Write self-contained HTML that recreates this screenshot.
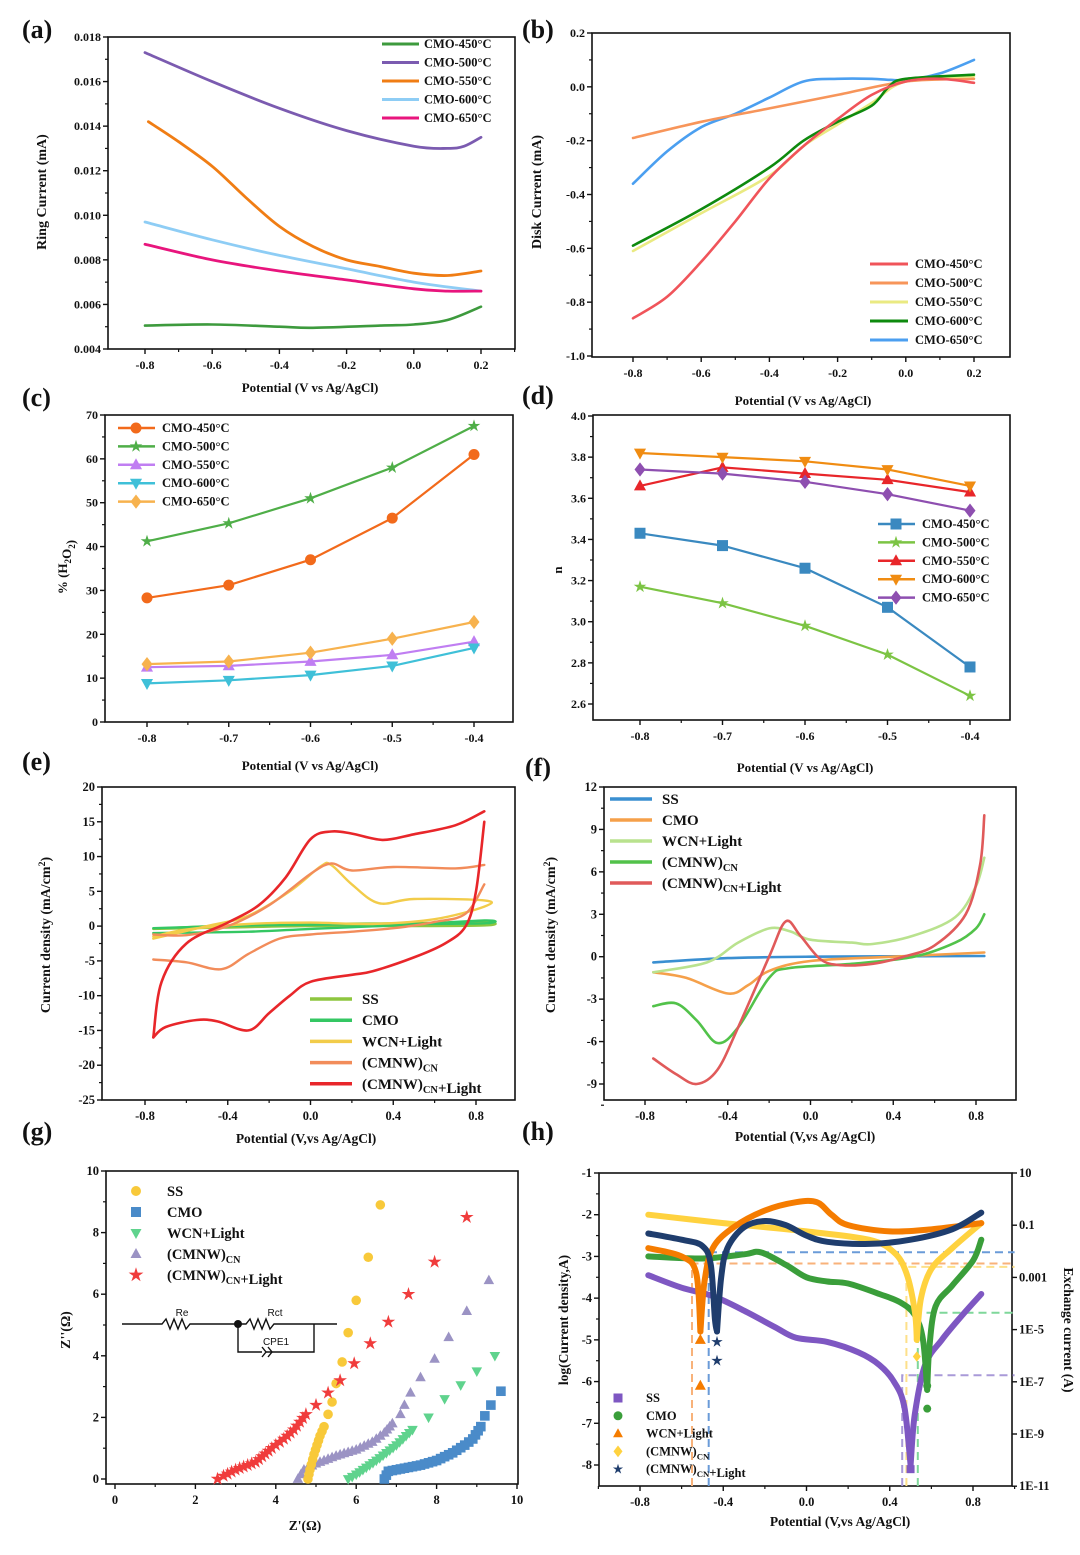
<!DOCTYPE html>
<html><head><meta charset="utf-8">
<style>
html,body{margin:0;padding:0;background:#fff;}
svg{display:block;}
text{font-family:"Liberation Serif",serif;font-weight:bold;fill:#111;}
</style></head>
<body>
<svg id="s" width="1080" height="1555" viewBox="0 0 1080 1555" xmlns="http://www.w3.org/2000/svg"></svg>
<script>
const S=document.getElementById('s');
let out='';
function lin(a,pa,b,pb){return v=>pa+(v-a)*(pb-pa)/(b-a);}
function path(pts,X,Y,col,w,extra){
  const p=pts.map(q=>[X(q[0]),Y(q[1])]);
  let d='M'+p[0][0].toFixed(1)+','+p[0][1].toFixed(1);
  for(let i=0;i<p.length-1;i++){
    const p0=p[i-1]||p[i],p1=p[i],p2=p[i+1],p3=p[i+2]||p2;
    const c1=[p1[0]+(p2[0]-p0[0])/6,p1[1]+(p2[1]-p0[1])/6];
    const c2=[p2[0]-(p3[0]-p1[0])/6,p2[1]-(p3[1]-p1[1])/6];
    d+=' C'+c1[0].toFixed(1)+','+c1[1].toFixed(1)+' '+c2[0].toFixed(1)+','+c2[1].toFixed(1)+' '+p2[0].toFixed(1)+','+p2[1].toFixed(1);
  }
  out+=`<path d="${d}" fill="none" stroke="${col}" stroke-width="${w}" stroke-linejoin="round" stroke-linecap="round" ${extra||''}/>`;
}
function pl(pts,col,w,extra){out+=`<polyline points="${pts.map(p=>p[0].toFixed(1)+','+p[1].toFixed(1)).join(' ')}" fill="none" stroke="${col}" stroke-width="${w}" ${extra||''}/>`;}
function mk(t,x,y,r,c){
  if(t=='o')out+=`<circle cx="${x}" cy="${y}" r="${r}" fill="${c}"/>`;
  else if(t=='s')out+=`<rect x="${x-r}" y="${y-r}" width="${2*r}" height="${2*r}" fill="${c}"/>`;
  else if(t=='^')out+=`<polygon points="${x},${y-r*1.2} ${x-r*1.1},${y+r*0.8} ${x+r*1.1},${y+r*0.8}" fill="${c}"/>`;
  else if(t=='v')out+=`<polygon points="${x},${y+r*1.2} ${x-r*1.1},${y-r*0.8} ${x+r*1.1},${y-r*0.8}" fill="${c}"/>`;
  else if(t=='d')out+=`<polygon points="${x},${y-r*1.3} ${x-r},${y} ${x},${y+r*1.3} ${x+r},${y}" fill="${c}"/>`;
  else if(t=='*'){let p=[];for(let i=0;i<10;i++){const a=-Math.PI/2+i*Math.PI/5,rr=i%2?r*0.45:r*1.2;p.push((x+rr*Math.cos(a)).toFixed(1)+','+(y+rr*Math.sin(a)).toFixed(1));}out+=`<polygon points="${p.join(' ')}" fill="${c}"/>`;}
}
function txt(x,y,s,size,anchor,extra){out+=`<text x="${x}" y="${y}" font-size="${size}" text-anchor="${anchor||'start'}" ${extra||''}>${s}</text>`;}
function box(x0,y0,x1,y1){out+=`<rect x="${x0}" y="${y0}" width="${x1-x0}" height="${y1-y0}" fill="none" stroke="#111" stroke-width="1.6"/>`;}
function axes(o){
  box(o.x0,o.y0,o.x1,o.y1);
  o.xt.forEach((v,i)=>{const x=o.X(v);out+=`<line x1="${x}" y1="${o.y1}" x2="${x}" y2="${o.y1+5}" stroke="#111" stroke-width="1.4"/>`;txt(x,o.y1+20,o.xl[i],o.fs||12,'middle');});
  if(o.xm)o.xm.forEach(v=>{const x=o.X(v);out+=`<line x1="${x}" y1="${o.y1}" x2="${x}" y2="${o.y1+3}" stroke="#111" stroke-width="1.2"/>`;});
  o.yt.forEach((v,i)=>{const y=o.Y(v);out+=`<line x1="${o.x0-5}" y1="${y}" x2="${o.x0}" y2="${y}" stroke="#111" stroke-width="1.4"/>`;txt(o.x0-7,y+4,o.yl[i],o.fs||12,'end');});
  if(o.ym)o.ym.forEach(v=>{const y=o.Y(v);out+=`<line x1="${o.x0-3}" y1="${y}" x2="${o.x0}" y2="${y}" stroke="#111" stroke-width="1.2"/>`;});
}
function ytitle(x,y,s,size){out+=`<text x="${x}" y="${y}" font-size="${size}" text-anchor="middle" transform="rotate(-90 ${x} ${y})">${s}</text>`;}
const SUB=s=>`<tspan font-size="70%" dy="4">${s}</tspan><tspan dy="-4"></tspan>`;
// panel labels
[['(a)',22,38],['(b)',522,38],['(c)',22,406],['(d)',522,404],['(e)',22,770],['(f)',525,776],['(g)',22,1140],['(h)',522,1140]].forEach(a=>txt(a[1],a[2],a[0],26));

// ===== (a)
{const X=lin(-0.8,145,0.2,481),Y=lin(0.018,37,0.004,349);
axes({x0:108,y0:37,x1:515,y1:349,X,Y,xt:[-0.8,-0.6,-0.4,-0.2,0,0.2],xl:['-0.8','-0.6','-0.4','-0.2','0.0','0.2'],xm:[-0.7,-0.5,-0.3,-0.1,0.1,0.3],yt:[0.004,0.006,0.008,0.010,0.012,0.014,0.016,0.018],yl:['0.004','0.006','0.008','0.010','0.012','0.014','0.016','0.018'],ym:[0.005,0.007,0.009,0.011,0.013,0.015,0.017]});
path([[-0.8,.00505],[-0.6,.0051],[-0.4,.005],[-0.3,.00495],[-0.1,.00505],[0,.0051],[0.1,.0053],[0.2,.0059]],X,Y,'#3d9a3d',2.6);
path([[-0.8,.0173],[-0.6,.016],[-0.4,.0148],[-0.2,.0138],[0,.0131],[0.1,.0130],[0.15,.0131],[0.2,.0135]],X,Y,'#7b5bb0',2.8);
path([[-0.79,.0142],[-0.7,.0133],[-0.6,.0122],[-0.5,.0108],[-0.4,.0095],[-0.3,.0086],[-0.2,.008],[-0.1,.0077],[0,.0074],[0.1,.0073],[0.2,.0075]],X,Y,'#f07d14',2.8);
path([[-0.8,.0097],[-0.6,.0089],[-0.4,.0082],[-0.2,.0076],[0,.007],[0.2,.0066]],X,Y,'#8ecdf5',2.8);
path([[-0.8,.0087],[-0.6,.0080],[-0.4,.0075],[-0.2,.0071],[0,.0067],[0.1,.0066],[0.2,.0066]],X,Y,'#e8157d',2.8);
[['#3d9a3d','CMO-450°C'],['#7b5bb0','CMO-500°C'],['#f07d14','CMO-550°C'],['#8ecdf5','CMO-600°C'],['#e8157d','CMO-650°C']].forEach((l,i)=>{const y=44+i*18.5;pl([[382,y],[419,y]],l[0],3);txt(424,y+4,l[1],12.5);});
txt(310,392,'Potential (V vs Ag/AgCl)',13,'middle');ytitle(46,192,'Ring Current (mA)',14);}

// ===== (b)
{const X=lin(-0.8,633,0.2,974),Y=lin(0.2,33,-1.0,356);
axes({x0:592,y0:33,x1:1010,y1:357,X,Y,xt:[-0.8,-0.6,-0.4,-0.2,0,0.2],xl:['-0.8','-0.6','-0.4','-0.2','0.0','0.2'],xm:[-0.7,-0.5,-0.3,-0.1,0.1],yt:[-1,-0.8,-0.6,-0.4,-0.2,0,0.2],yl:['-1.0','-0.8','-0.6','-0.4','-0.2','0.0','0.2'],ym:[-0.9,-0.7,-0.5,-0.3,-0.1,0.1]});
path([[-0.8,-0.36],[-0.7,-0.24],[-0.6,-0.15],[-0.5,-0.1],[-0.4,-0.04],[-0.3,0.02],[-0.2,0.03],[-0.1,0.03],[0,0.025],[0.1,0.05],[0.2,0.1]],X,Y,'#4b9ff0',2.6);
path([[-0.8,-0.19],[-0.6,-0.13],[-0.4,-0.08],[-0.2,-0.03],[0,0.02],[0.2,0.03]],X,Y,'#f7955a',2.6);
path([[-0.8,-0.61],[-0.6,-0.47],[-0.4,-0.33],[-0.3,-0.22],[-0.2,-0.14],[-0.1,-0.06],[0,0.02],[0.2,0.04]],X,Y,'#eaea82',2.6);
path([[-0.8,-0.59],[-0.6,-0.455],[-0.4,-0.3],[-0.3,-0.2],[-0.2,-0.13],[-0.1,-0.07],[-0.05,0],[0,0.03],[0.2,0.045]],X,Y,'#0e8a0e',2.6);
path([[-0.8,-0.86],[-0.7,-0.78],[-0.6,-0.65],[-0.5,-0.5],[-0.4,-0.34],[-0.3,-0.22],[-0.2,-0.12],[-0.1,-0.03],[0,0.02],[0.1,0.03],[0.2,0.015]],X,Y,'#f0545a',2.6);
[['#f0545a','CMO-450°C'],['#f7955a','CMO-500°C'],['#eaea82','CMO-550°C'],['#0e8a0e','CMO-600°C'],['#4b9ff0','CMO-650°C']].forEach((l,i)=>{const y=264+i*19;pl([[870,y],[908,y]],l[0],3);txt(915,y+4,l[1],12.5);});
txt(803,405,'Potential (V vs Ag/AgCl)',13,'middle');ytitle(541,192,'Disk Current (mA)',14);}

// ===== (c)
{const X=lin(-0.8,147,-0.4,474),Y=lin(70,415,0,722);
axes({x0:105,y0:415,x1:513,y1:722,X,Y,xt:[-0.8,-0.7,-0.6,-0.5,-0.4],xl:['-0.8','-0.7','-0.6','-0.5','-0.4'],xm:[-0.75,-0.65,-0.55,-0.45],yt:[0,10,20,30,40,50,60,70],yl:['0','10','20','30','40','50','60','70'],ym:[5,15,25,35,45,55,65]});
const xs=[-0.8,-0.7,-0.6,-0.5,-0.4];
const ser=[['#f26a1b','o',[28.3,31.2,37,46.5,61],'CMO-450°C'],['#4fae48','*',[41.2,45.3,51,58,67.5],'CMO-500°C'],['#c07ef2','^',[12.5,12.8,13.8,15.3,18.3],'CMO-550°C'],['#3fc0d8','v',[8.8,9.5,10.7,12.8,16.9],'CMO-600°C'],['#f7b24e','d',[13.2,13.8,15.8,19,22.8],'CMO-650°C']];
ser.forEach(s=>{pl(xs.map((x,i)=>[X(x),Y(s[2][i])]),s[0],2.2);xs.forEach((x,i)=>mk(s[1],X(x),Y(s[2][i]),5.5,s[0]));});
ser.forEach((s,i)=>{const y=428+i*18.4;pl([[118,y],[155,y]],s[0],2.5);mk(s[1],136,y,5.5,s[0]);txt(162,y+4,s[3],12.5);});
txt(310,770,'Potential (V vs Ag/AgCl)',13,'middle');ytitle(67,567,'% (H'+SUB('2')+'O'+SUB('2')+')',13);}

// ===== (d)
{const X=lin(-0.8,640,-0.4,970),Y=lin(4.0,416,2.6,704);
axes({x0:593,y0:415,x1:1010,y1:720,X,Y,xt:[-0.8,-0.7,-0.6,-0.5,-0.4],xl:['-0.8','-0.7','-0.6','-0.5','-0.4'],xm:[-0.75,-0.65,-0.55,-0.45],yt:[2.6,2.8,3.0,3.2,3.4,3.6,3.8,4.0],yl:['2.6','2.8','3.0','3.2','3.4','3.6','3.8','4.0'],ym:[2.7,2.9,3.1,3.3,3.5,3.7,3.9]});
const xs=[-0.8,-0.7,-0.6,-0.5,-0.4];
const ser=[['#3a89c0','s',[3.43,3.37,3.26,3.07,2.78],'CMO-450°C'],['#7cc444','*',[3.17,3.09,2.98,2.84,2.64],'CMO-500°C'],['#e8262a','^',[3.66,3.75,3.72,3.69,3.63],'CMO-550°C'],['#f08c12','v',[3.82,3.8,3.78,3.74,3.66],'CMO-600°C'],['#8e4fb0','d',[3.74,3.72,3.68,3.62,3.54],'CMO-650°C']];
ser.forEach(s=>{pl(xs.map((x,i)=>[X(x),Y(s[2][i])]),s[0],2.2);xs.forEach((x,i)=>mk(s[1],X(x),Y(s[2][i]),5.5,s[0]));});
ser.forEach((s,i)=>{const y=524+i*18.4;pl([[878,y],[915,y]],s[0],2.5);mk(s[1],896,y,5.5,s[0]);txt(922,y+4,s[3],12.5);});
txt(805,772,'Potential (V vs Ag/AgCl)',13,'middle');ytitle(562,570,'n',13);}

// ===== (e)
{const X=lin(-0.8,145,0.8,476),Y=lin(20,787,-25,1100);
axes({x0:102,y0:787,x1:515,y1:1100,X,Y,xt:[-0.8,-0.4,0,0.4,0.8],xl:['-0.8','-0.4','0.0','0.4','0.8'],xm:[-0.6,-0.2,0.2,0.6],yt:[-25,-20,-15,-10,-5,0,5,10,15,20],yl:['-25','-20','-15','-10','-5','0','5','10','15','20'],ym:[-22.5,-17.5,-12.5,-7.5,-2.5,2.5,7.5,12.5,17.5],fs:12.5});
path([[-0.76,-0.4],[-0.4,-0.2],[0,0],[0.4,0],[0.84,0.1],[0.84,0.5],[0.4,0.4],[0,0.3],[-0.4,0.1],[-0.76,-0.4]],X,Y,'#8dc63f',2.4);
path([[-0.76,-1],[-0.3,-0.8],[0,-0.4],[0.4,0.1],[0.84,0.8],[0.84,0.4],[0.4,0.3],[0,0.2],[-0.3,0.1],[-0.76,-0.3]],X,Y,'#34c763',2.4);
path([[-0.76,-1.8],[-0.5,0],[-0.3,1.5],[-0.1,5],[0.05,8.6],[0.1,8.8],[0.2,6],[0.33,3.3],[0.5,3.9],[0.84,3.7],[0.84,2.8],[0.6,1],[0.3,0.3],[0,0.5],[-0.3,0.3],[-0.6,-0.5],[-0.76,-1.5]],X,Y,'#f2cc4a',2.4);
path([[-0.76,-4.8],[-0.6,-5.2],[-0.43,-6.2],[-0.3,-4],[-0.15,-1.8],[0,-1.2],[0.2,-0.8],[0.4,-0.3],[0.6,0.6],[0.75,1.8],[0.84,6]],X,Y,'#f28c5a',2.4);
path([[0.84,8.8],[0.7,8.3],[0.4,8.5],[0.2,8],[0.1,9],[0,7.5],[-0.2,3],[-0.4,0],[-0.6,-1.3],[-0.76,-1.2]],X,Y,'#f28c5a',2.4);
path([[-0.76,-16],[-0.72,-8],[-0.6,-2.5],[-0.4,0.5],[-0.25,3],[-0.12,7],[0,12.5],[0.1,13.6],[0.2,13.3],[0.35,12.4],[0.5,13.2],[0.7,14.5],[0.84,16.5]],X,Y,'#e8262a',2.6);
path([[0.84,15],[0.8,5],[0.75,0],[0.65,-2.5],[0.5,-4.5],[0.3,-6.5],[0.2,-7],[0,-8],[-0.1,-10],[-0.2,-12.5],[-0.3,-15],[-0.45,-13.7],[-0.55,-13.5],[-0.7,-14.5],[-0.76,-16]],X,Y,'#e8262a',2.6);
[['#8dc63f','SS'],['#34c763','CMO'],['#f2cc4a','WCN+Light'],['#f28c5a','(CMNW)'+SUB('CN')],['#e8262a','(CMNW)'+SUB('CN')+'+Light']].forEach((l,i)=>{const y=999+i*21.2;pl([[310,y],[352,y]],l[0],3.5);txt(362,y+5,l[1],15);});
txt(306,1143,'Potential (V,vs Ag/AgCl)',13.5,'middle');ytitle(50,935,'Current density (mA/cm<tspan font-size="70%" dy="-5">2</tspan><tspan dy="5">)</tspan>',14);}

// ===== (f)
{const X=lin(-0.8,645,0.8,976),Y=lin(12,787,-9,1084);
axes({x0:604,y0:787,x1:1016,y1:1100,X,Y,xt:[-0.8,-0.4,0,0.4,0.8],xl:['-0.8','-0.4','0.0','0.4','0.8'],xm:[-0.6,-0.2,0.2,0.6],yt:[-9,-6,-3,0,3,6,9,12],yl:['-9','-6','-3','0','3','6','9','12'],ym:[-10.5,-7.5,-4.5,-1.5,1.5,4.5,7.5,10.5],fs:12.5});
path([[-0.76,-0.4],[-0.4,-0.1],[0,0],[0.84,0.05]],X,Y,'#3a8fd1',2.6);
path([[-0.76,-1.1],[-0.6,-1.5],[-0.4,-2.6],[-0.3,-2],[-0.2,-1],[0,-0.3],[0.4,0],[0.84,0.3]],X,Y,'#f5a04a',2.6);
path([[-0.76,-1.1],[-0.5,-0.4],[-0.35,1],[-0.2,2],[-0.1,1.8],[0,1.2],[0.2,1],[0.3,0.9],[0.5,1.5],[0.7,2.8],[0.8,5],[0.84,7]],X,Y,'#b9e28e',2.6);
path([[-0.76,-3.5],[-0.65,-3.3],[-0.55,-4.5],[-0.45,-6.1],[-0.35,-5],[-0.2,-1.5],[-0.1,-0.8],[0.2,-0.5],[0.5,0],[0.7,1],[0.8,2],[0.84,3]],X,Y,'#52c24a',2.6);
path([[-0.76,-7.2],[-0.65,-8.3],[-0.55,-9],[-0.45,-8],[-0.35,-5],[-0.2,0],[-0.12,2.5],[-0.05,1.5],[0.05,-0.2],[0.15,-0.6],[0.3,-0.5],[0.45,0],[0.6,0.8],[0.75,3],[0.82,6.5],[0.84,10]],X,Y,'#e05a5a',2.6);
[['#3a8fd1','SS'],['#f5a04a','CMO'],['#b9e28e','WCN+Light'],['#52c24a','(CMNW)'+SUB('CN')],['#e05a5a','(CMNW)'+SUB('CN')+'+Light']].forEach((l,i)=>{const y=799+i*21;pl([[610,y],[652,y]],l[0],3.5);txt(662,y+5,l[1],15);});
txt(805,1141,'Potential (V,vs Ag/AgCl)',13.5,'middle');ytitle(555,935,'Current density (mA/cm<tspan font-size="70%" dy="-5">2</tspan><tspan dy="5">)</tspan>',14);}

// ===== (g)
{const X=lin(0,115,10,517),Y=lin(10,1171,0,1479);
axes({x0:106,y0:1171,x1:518,y1:1484,X,Y,xt:[0,2,4,6,8,10],xl:['0','2','4','6','8','10'],xm:[1,3,5,7,9],yt:[0,2,4,6,8,10],yl:['0','2','4','6','8','10'],ym:[1,3,5,7,9],fs:12.5});
function dense(pts,lim){let r=[];for(let i=0;i<pts.length;i++){r.push(pts[i]);if(i<pts.length-1&&pts[i+1][1]<lim){const a=[X(pts[i][0]),Y(pts[i][1])],b=[X(pts[i+1][0]),Y(pts[i+1][1])];const n=Math.floor(Math.hypot(b[0]-a[0],b[1]-a[1])/4);for(let k=1;k<n;k++){const t=k/n;r.push([pts[i][0]+t*(pts[i+1][0]-pts[i][0]),pts[i][1]+t*(pts[i+1][1]-pts[i][1])]);}}}return r;}
const ser=[
['#4a8bc9','s',dense([[6.7,0],[6.8,0.25],[7.2,0.35],[7.6,0.45],[8,0.6],[8.4,0.85],[8.7,1.1],[8.9,1.3],[9.1,1.7]],1.8).concat([[9.2,2.05],[9.35,2.4],[9.6,2.85]]),'CMO'],
['#5fd38d','v',dense([[5.8,0],[6,0.15],[6.5,0.6],[7,1.1],[7.4,1.6],[7.8,2]],1.7).concat([[8.2,2.6],[8.6,3.05],[9,3.5],[9.45,4]]),'WCN+Light'],
['#9b93c4','^',dense([[4.55,0],[4.7,0.3],[5,0.5],[5.5,0.75],[6,0.95],[6.4,1.2],[6.7,1.5],[6.9,1.8]],1.9).concat([[7.1,2.1],[7.2,2.4],[7.35,2.8],[7.6,3.3],[7.95,3.9],[8.3,4.6],[8.75,5.45],[9.3,6.45]]),'(CMNW)'+SUB('CN')],
['#f8c93a','o',dense([[4.8,0],[4.85,0.3],[4.95,0.8],[5.1,1.4],[5.2,1.7]],1.8).concat([[5.3,2.1],[5.4,2.5],[5.5,3.1],[5.65,3.8],[5.8,4.75],[6,5.8],[6.3,7.2],[6.6,8.9]]),'SS'],
['#f03c3c','*',dense([[2.55,0],[2.7,0.1],[3,0.3],[3.5,0.55],[3.9,1],[4.2,1.3],[4.45,1.6],[4.75,2.1]],2.2).concat([[5,2.4],[5.3,2.8],[5.6,3.2],[5.95,3.75],[6.35,4.4],[6.8,5.1],[7.3,6],[7.95,7.05],[8.75,8.5]]),'(CMNW)'+SUB('CN')+'+Light']];
ser.forEach(s=>s[2].forEach(p=>mk(s[1],X(p[0]),Y(p[1]),s[1]=='*'?6:4.8,s[0])));
// circuit
out+=`<g stroke="#111" stroke-width="1.4" fill="none"><polyline points="122,1324 162,1324 166,1319 170,1329 174,1319 178,1329 182,1319 186,1329 190,1324 238,1324 246,1324 250,1319 254,1329 258,1319 262,1329 266,1319 270,1329 274,1324 337,1324"/><polyline points="238,1324 238,1352 262,1352"/><polyline points="266,1352 314,1352 314,1324"/><polyline points="262,1347 266,1352 262,1357"/><polyline points="268,1347 272,1352 268,1357"/></g><circle cx="238" cy="1324" r="4" fill="#111"/>`;
out+=`<text x="182" y="1316" font-size="10" text-anchor="middle" style="font-family:'Liberation Sans',sans-serif;font-weight:normal">Re</text><text x="275" y="1316" font-size="10" text-anchor="middle" style="font-family:'Liberation Sans',sans-serif;font-weight:normal">Rct</text><text x="276" y="1345" font-size="10" text-anchor="middle" style="font-family:'Liberation Sans',sans-serif;font-weight:normal">CPE1</text>`;
[['#f8c93a','o','SS'],['#4a8bc9','s','CMO'],['#5fd38d','v','WCN+Light'],['#9b93c4','^','(CMNW)'+SUB('CN')],['#f03c3c','*','(CMNW)'+SUB('CN')+'+Light']].forEach((l,i)=>{const y=1191+i*21;mk(l[1],136,y,l[1]=='*'?6.5:5,l[0]);txt(167,y+5,l[2],14.5);});
txt(305,1530,"Z'(Ω)",13.5,'middle');ytitle(70,1330,"Z''(Ω)",14);}

// ===== (h)
{const X=lin(-0.8,640,0.8,973),Y=lin(-1,1173,-8,1465);
axes({x0:599,y0:1173,x1:1012,y1:1486,X,Y,xt:[-0.8,-0.4,0,0.4,0.8],xl:['-0.8','-0.4','0.0','0.4','0.8'],xm:[-1,-0.6,-0.2,0.2,0.6,1],yt:[-8,-7,-6,-5,-4,-3,-2,-1],yl:['-8','-7','-6','-5','-4','-3','-2','-1'],ym:[-7.5,-6.5,-5.5,-4.5,-3.5,-2.5,-1.5],fs:12.5});
['10','0.1','0.001','1E-5','1E-7','1E-9','1E-11'].forEach((l,i)=>{const y=1173+i*52.2;out+=`<line x1="1012" y1="${y}" x2="1017" y2="${y}" stroke="#111" stroke-width="1.4"/>`;txt(1019,y+4,l,12.5);});
const DS='stroke-dasharray="8,5"';
const xr=X(1.0);
pl([[X(-0.47),1486],[X(-0.47),Y(-2.9)],[xr,Y(-2.9)]],'#6a9bd8',2,DS);
pl([[X(-0.55),1486],[X(-0.55),Y(-3.17)],[xr,Y(-3.17)]],'#f8b27a',2,DS);
pl([[X(0.48),1486],[X(0.48),Y(-3.25)],[xr,Y(-3.25)]],'#fde08a',2,DS);
pl([[X(0.535),1486],[X(0.535),Y(-4.35)],[xr,Y(-4.35)]],'#7fd79a',2,DS);
pl([[X(0.46),1486],[X(0.46),Y(-5.85)],[xr,Y(-5.85)]],'#a99ad8',2,DS);
path([[-0.76,-3.45],[-0.6,-3.75],[-0.45,-3.95],[-0.3,-4.3],[-0.15,-4.7],[-0.05,-4.95],[0.1,-5.05],[0.25,-5.3],[0.35,-5.6],[0.42,-6],[0.47,-6.6],[0.5,-8]],X,Y,'#7e57c2',6);
path([[0.5,-8],[0.52,-6.8],[0.57,-5.6],[0.65,-5],[0.75,-4.4],[0.84,-3.9]],X,Y,'#7e57c2',6);
path([[-0.76,-3],[-0.5,-3.05],[-0.3,-2.95],[-0.22,-2.9],[-0.1,-3.2],[0,-3.5],[0.1,-3.6],[0.2,-3.65],[0.35,-3.9],[0.45,-4.1],[0.52,-4.4],[0.56,-5],[0.58,-6.2]],X,Y,'#3a9e3a',6);
path([[0.58,-6.2],[0.59,-5.2],[0.62,-4.2],[0.7,-3.7],[0.8,-3.1],[0.84,-2.6]],X,Y,'#3a9e3a',6);
path([[-0.76,-2],[-0.4,-2.2],[0,-2.4],[0.3,-2.6],[0.42,-2.9],[0.48,-3.4],[0.52,-4.3],[0.53,-5]],X,Y,'#ffd23f',6);
path([[0.53,-5],[0.55,-4],[0.6,-3.3],[0.7,-2.8],[0.84,-2.2]],X,Y,'#ffd23f',6);
path([[-0.76,-2.8],[-0.6,-3],[-0.53,-3.4],[-0.51,-4.8]],X,Y,'#f57c00',6);
path([[-0.51,-4.8],[-0.49,-3.6],[-0.45,-2.8],[-0.35,-2.3],[-0.2,-1.9],[-0.05,-1.7],[0.05,-1.7],[0.12,-2],[0.2,-2.25],[0.4,-2.4],[0.6,-2.35],[0.84,-2.2]],X,Y,'#f57c00',6);
path([[-0.76,-2.45],[-0.6,-2.6],[-0.5,-2.75],[-0.46,-3.2],[-0.44,-4.5],[-0.43,-4.8]],X,Y,'#1f3d6d',6);
path([[-0.43,-4.8],[-0.41,-3.5],[-0.38,-2.8],[-0.3,-2.3],[-0.2,-2.15],[-0.1,-2.25],[0,-2.5],[0.1,-2.65],[0.3,-2.7],[0.5,-2.6],[0.7,-2.35],[0.84,-1.95]],X,Y,'#1f3d6d',6);
mk('^',X(-0.51),Y(-5),5,'#f57c00');mk('^',X(-0.51),Y(-6.1),5,'#f57c00');
mk('*',X(-0.43),Y(-5.05),5,'#1f3d6d');mk('*',X(-0.43),Y(-5.5),5,'#1f3d6d');
mk('o',X(0.58),Y(-6.1),4,'#3a9e3a');mk('o',X(0.58),Y(-6.65),4,'#3a9e3a');
mk('d',X(0.53),Y(-5.4),4,'#ffd23f');mk('s',X(0.5),Y(-8.1),4,'#7e57c2');
[['#7e57c2','s','SS'],['#3a9e3a','o','CMO'],['#f57c00','^','WCN+Light'],['#ffd23f','d','(CMNW)'+SUB('CN')],['#1f3d6d','*','(CMNW)'+SUB('CN')+'+Light']].forEach((l,i)=>{const y=1398+i*17.8;mk(l[1],618,y,4.5,l[0]);txt(646,y+4,l[2],12.5);});
txt(840,1526,'Potential (V,vs Ag/AgCl)',13.5,'middle');ytitle(568,1320,'log(Current density,A)',13.5);
out+=`<text x="1064" y="1330" font-size="13.5" text-anchor="middle" transform="rotate(90 1064 1330)">Exchange current (A)</text>`;}

S.innerHTML=out;
</script>
</body></html>
